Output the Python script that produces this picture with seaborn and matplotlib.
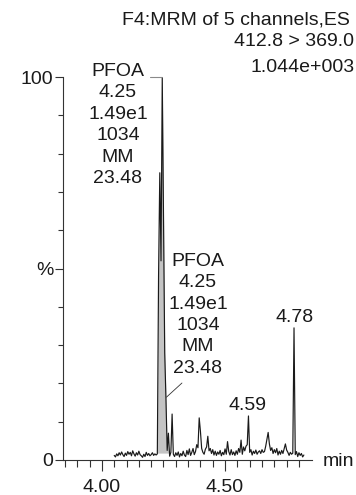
import matplotlib
matplotlib.use('Agg')
import matplotlib.pyplot as plt
import numpy as np
import pandas as pd
import seaborn as sns

# chromatogram trace, one scan every 0.005 min starting at 4.050 min
SCAN_START = 4.050
SCAN_STEP = 0.005
intensity = [
    # 4.050 - 4.220
    1.2, 0.8, 1.6, 1.1, 1.9, 1.3, 2.1, 1.4, 0.9, 1.8,
    1.2, 2.2, 1.5, 2.0, 1.1, 2.4, 1.6, 1.0, 1.9, 1.3,
    2.3, 1.4, 1.1, 0.7, 1.5, 0.9, 2.0, 1.2, 1.7, 1.1,
    1.4, 1.9, 1.2, 1.6, 1.3,
    # 4.225 - 4.285 (PFOA peak)
    1.6, 48, 75, 52, 100, 64, 28, 16, 2.5, 7, 1.0, 2.0, 12,
    # 4.290 - 4.820
    1.5, 0.9, 1.9, 1.2, 2.1, 0.8, 1.7, 1.1, 2.3, 1.3,
    0.9, 2.5, 1.4, 2.9, 1.2, 2.0, 3.0, 1.4, 2.2, 4.0,
    3.2, 11.0, 7.5, 3.0, 2.0, 1.5, 2.8, 3.4, 6.2, 2.4,
    3.0, 1.7, 2.7, 1.3, 2.3, 1.2, 2.1, 1.5, 2.5, 1.1,
    2.0, 1.4, 2.9, 1.5, 4.8, 2.2, 1.3, 2.7, 1.4, 2.1,
    1.2, 2.4, 1.5, 3.0, 2.0, 5.2, 1.5, 3.4, 2.4, 3.6,
    4.0, 11.5, 2.0, 2.7, 1.3, 2.3, 1.7, 2.6, 1.5, 2.1,
    2.4, 1.7, 2.7, 2.0, 2.2, 3.6, 5.4, 7.2, 4.2, 2.5,
    3.2, 1.7, 2.7, 1.9, 3.0, 1.3, 2.3, 1.5, 2.5, 1.7,
    3.0, 4.2, 2.6, 2.0, 1.2, 2.0, 1.5, 1.8, 34.5, 1.4,
    2.2, 0.9, 1.9, 1.2, 1.7, 0.8, 1.3,
]

# integrated area of the PFOA peak
area_start, area_end, area_base = 4.225, 4.270, 1.8

peak_label = ['PFOA', '4.25', '1.49e1', '1034', 'MM', '23.48']
small_peaks = [4.59, 4.78]
header = ['F4:MRM of 5 channels,ES', '412.8 > 369.0', '1.044e+003']

df = pd.DataFrame({
    'time': np.round(SCAN_START + SCAN_STEP * np.arange(len(intensity)), 3),
    'pct': intensity,
})

sns.set_style('ticks')
plt.rcParams['font.family'] = ['Liberation Sans', 'DejaVu Sans']
plt.rcParams['font.size'] = 14
ink = '#1a1a1a'

fig = plt.figure(figsize=(3.56, 4.95), dpi=100)
ax = fig.add_axes([63 / 356, 1 - 460 / 495, 249 / 356, 383 / 495])

area = df[(df.time >= area_start) & (df.time <= area_end)]
ax.fill_between(area.time, area_base, area.pct, color='#c4c4c4', lw=0, zorder=1)
sns.lineplot(data=df, x='time', y='pct', ax=ax, color=ink, lw=0.85,
             estimator=None, zorder=2)

ax.set_xlim(3.842, 4.853)
ax.set_ylim(0, 100)
ax.set_xlabel('')
ax.set_ylabel('')
sns.despine(ax=ax)
for side in ['left', 'bottom']:
    ax.spines[side].set_color('#333333')
    ax.spines[side].set_linewidth(0.8)

ax.set_xticks([4.0, 4.5], ['4.00', '4.50'])
ax.set_xticks(np.round(np.arange(3.85, 4.81, 0.05), 2), minor=True)
ax.set_yticks([0, 50, 100], ['0', '%', '100'])
ax.set_yticks(np.arange(10, 100, 10), minor=True)
ax.tick_params(axis='x', which='major', length=8, width=0.8, pad=6, colors='#333333', labelcolor=ink)
ax.tick_params(axis='x', which='minor', length=5, width=0.8, colors='#333333')
ax.tick_params(axis='y', which='major', length=6, width=0.8, pad=1, colors='#333333', labelcolor=ink)
ax.tick_params(axis='y', which='minor', length=3.6, width=0.8, colors='#333333')

# peak labels
ax.text(4.065, 87.5, '\n'.join(peak_label), ha='center', va='center',
        linespacing=1.34, color=ink, clip_on=False)
ax.plot([4.195, 4.245], [100, 100], color='#8a8a8a', lw=0.8, clip_on=False)
ax.text(4.39, 37.9, '\n'.join(peak_label), ha='center', va='center',
        linespacing=1.34, color=ink)
ax.plot([4.325, 4.262], [20.1, 16.4], color='#333333', lw=0.6)
for t in small_peaks:
    h = df.loc[(df.time - t).abs() < 0.011, 'pct'].max()
    ax.text(t + 0.002, h + 0.6, f'{t:.2f}', ha='center', va='bottom', color=ink)

fig.text(323 / 356, 1 - 462 / 495, 'min', ha='left', va='center', color=ink)
for x_px, y_px, s in zip([122, 234, 251], [20, 41, 67], header):
    fig.text(x_px / 356, 1 - y_px / 495, s, ha='left', va='center', color=ink)

fig.savefig('out.png', dpi=100)
